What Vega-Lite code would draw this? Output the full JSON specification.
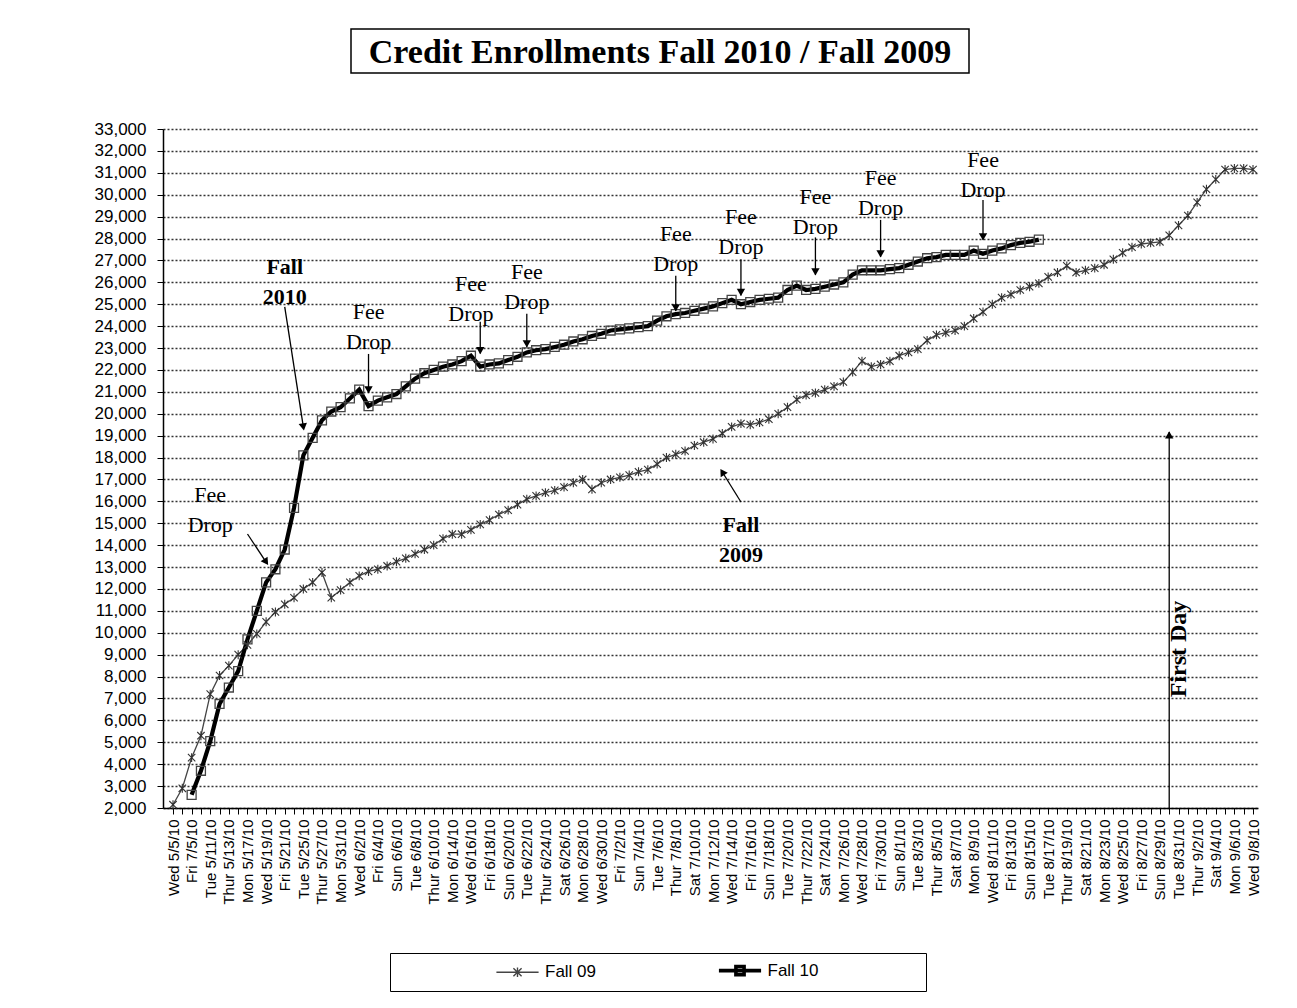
{
"$schema": "https://vega.github.io/schema/vega-lite/v6.json",
"padding": {"left": 94, "top": 28, "right": 0, "bottom": 0},
"background": "white",
"datasets": {
"enroll": [
{"day":"Wed 5/5/10","series":"Fall 09","value":2150},
{"day":"Thur 5/6/10","series":"Fall 09","value":2900},
{"day":"Fri 7/5/10","series":"Fall 09","value":4300},
{"day":"Mon 5/10/10","series":"Fall 09","value":5300},
{"day":"Tue 5/11/10","series":"Fall 09","value":7200},
{"day":"Wed 5/12/10","series":"Fall 09","value":8050},
{"day":"Thur 5/13/10","series":"Fall 09","value":8500},
{"day":"Fri 5/14/10","series":"Fall 09","value":9000},
{"day":"Mon 5/17/10","series":"Fall 09","value":9450},
{"day":"Tue 5/18/10","series":"Fall 09","value":9950},
{"day":"Wed 5/19/10","series":"Fall 09","value":10500},
{"day":"Thur 5/20/10","series":"Fall 09","value":10950},
{"day":"Fri 5/21/10","series":"Fall 09","value":11300},
{"day":"Mon 5/24/10","series":"Fall 09","value":11600},
{"day":"Tue 5/25/10","series":"Fall 09","value":12000},
{"day":"Wed 5/26/10","series":"Fall 09","value":12300},
{"day":"Thur 5/27/10","series":"Fall 09","value":12750},
{"day":"Fri 5/28/10","series":"Fall 09","value":11600},
{"day":"Mon 5/31/10","series":"Fall 09","value":11950},
{"day":"Tue 6/1/10","series":"Fall 09","value":12300},
{"day":"Wed 6/2/10","series":"Fall 09","value":12600},
{"day":"Thur 6/3/10","series":"Fall 09","value":12800},
{"day":"Fri 6/4/10","series":"Fall 09","value":12900},
{"day":"Sat 6/5/10","series":"Fall 09","value":13050},
{"day":"Sun 6/6/10","series":"Fall 09","value":13250},
{"day":"Mon 6/7/10","series":"Fall 09","value":13400},
{"day":"Tue 6/8/10","series":"Fall 09","value":13600},
{"day":"Wed 6/9/10","series":"Fall 09","value":13800},
{"day":"Thur 6/10/10","series":"Fall 09","value":14000},
{"day":"Fri 6/11/10","series":"Fall 09","value":14300},
{"day":"Mon 6/14/10","series":"Fall 09","value":14500},
{"day":"Tue 6/15/10","series":"Fall 09","value":14500},
{"day":"Wed 6/16/10","series":"Fall 09","value":14700},
{"day":"Thur 6/17/10","series":"Fall 09","value":14950},
{"day":"Fri 6/18/10","series":"Fall 09","value":15150},
{"day":"Sat 6/19/10","series":"Fall 09","value":15400},
{"day":"Sun 6/20/10","series":"Fall 09","value":15600},
{"day":"Mon 6/21/10","series":"Fall 09","value":15850},
{"day":"Tue 6/22/10","series":"Fall 09","value":16100},
{"day":"Wed 6/23/10","series":"Fall 09","value":16250},
{"day":"Thur 6/24/10","series":"Fall 09","value":16400},
{"day":"Fri 6/25/10","series":"Fall 09","value":16500},
{"day":"Sat 6/26/10","series":"Fall 09","value":16650},
{"day":"Sun 6/27/10","series":"Fall 09","value":16850},
{"day":"Mon 6/28/10","series":"Fall 09","value":17000},
{"day":"Tue 6/29/10","series":"Fall 09","value":16550},
{"day":"Wed 6/30/10","series":"Fall 09","value":16850},
{"day":"Thur 7/1/10","series":"Fall 09","value":17000},
{"day":"Fri 7/2/10","series":"Fall 09","value":17100},
{"day":"Sat 7/3/10","series":"Fall 09","value":17200},
{"day":"Sun 7/4/10","series":"Fall 09","value":17350},
{"day":"Mon 7/5/10","series":"Fall 09","value":17450},
{"day":"Tue 7/6/10","series":"Fall 09","value":17700},
{"day":"Wed 7/7/10","series":"Fall 09","value":18000},
{"day":"Thur 7/8/10","series":"Fall 09","value":18150},
{"day":"Fri 7/9/10","series":"Fall 09","value":18300},
{"day":"Sat 7/10/10","series":"Fall 09","value":18550},
{"day":"Sun 7/11/10","series":"Fall 09","value":18700},
{"day":"Mon 7/12/10","series":"Fall 09","value":18850},
{"day":"Tue 7/13/10","series":"Fall 09","value":19100},
{"day":"Wed 7/14/10","series":"Fall 09","value":19400},
{"day":"Thur 7/15/10","series":"Fall 09","value":19550},
{"day":"Fri 7/16/10","series":"Fall 09","value":19500},
{"day":"Sat 7/17/10","series":"Fall 09","value":19600},
{"day":"Sun 7/18/10","series":"Fall 09","value":19750},
{"day":"Mon 7/19/10","series":"Fall 09","value":20000},
{"day":"Tue 7/20/10","series":"Fall 09","value":20300},
{"day":"Wed 7/21/10","series":"Fall 09","value":20650},
{"day":"Thur 7/22/10","series":"Fall 09","value":20850},
{"day":"Fri 7/23/10","series":"Fall 09","value":20950},
{"day":"Sat 7/24/10","series":"Fall 09","value":21100},
{"day":"Sun 7/25/10","series":"Fall 09","value":21250},
{"day":"Mon 7/26/10","series":"Fall 09","value":21450},
{"day":"Tue 7/27/10","series":"Fall 09","value":21900},
{"day":"Wed 7/28/10","series":"Fall 09","value":22400},
{"day":"Thur 7/29/10","series":"Fall 09","value":22150},
{"day":"Fri 7/30/10","series":"Fall 09","value":22250},
{"day":"Sat 7/31/10","series":"Fall 09","value":22400},
{"day":"Sun 8/1/10","series":"Fall 09","value":22650},
{"day":"Mon 8/2/10","series":"Fall 09","value":22800},
{"day":"Tue 8/3/10","series":"Fall 09","value":22950},
{"day":"Wed 8/4/10","series":"Fall 09","value":23350},
{"day":"Thur 8/5/10","series":"Fall 09","value":23600},
{"day":"Fri 8/6/10","series":"Fall 09","value":23700},
{"day":"Sat 8/7/10","series":"Fall 09","value":23800},
{"day":"Sun 8/8/10","series":"Fall 09","value":24000},
{"day":"Mon 8/9/10","series":"Fall 09","value":24350},
{"day":"Tue 8/10/10","series":"Fall 09","value":24650},
{"day":"Wed 8/11/10","series":"Fall 09","value":25000},
{"day":"Thur 8/12/10","series":"Fall 09","value":25300},
{"day":"Fri 8/13/10","series":"Fall 09","value":25450},
{"day":"Sat 8/14/10","series":"Fall 09","value":25650},
{"day":"Sun 8/15/10","series":"Fall 09","value":25800},
{"day":"Mon 8/16/10","series":"Fall 09","value":25950},
{"day":"Tue 8/17/10","series":"Fall 09","value":26250},
{"day":"Wed 8/18/10","series":"Fall 09","value":26450},
{"day":"Thur 8/19/10","series":"Fall 09","value":26750},
{"day":"Fri 8/20/10","series":"Fall 09","value":26450},
{"day":"Sat 8/21/10","series":"Fall 09","value":26550},
{"day":"Sun 8/22/10","series":"Fall 09","value":26650},
{"day":"Mon 8/23/10","series":"Fall 09","value":26800},
{"day":"Tue 8/24/10","series":"Fall 09","value":27050},
{"day":"Wed 8/25/10","series":"Fall 09","value":27350},
{"day":"Thur 8/26/10","series":"Fall 09","value":27600},
{"day":"Fri 8/27/10","series":"Fall 09","value":27750},
{"day":"Sat 8/28/10","series":"Fall 09","value":27800},
{"day":"Sun 8/29/10","series":"Fall 09","value":27850},
{"day":"Mon 8/30/10","series":"Fall 09","value":28150},
{"day":"Tue 8/31/10","series":"Fall 09","value":28600},
{"day":"Wed 9/1/10","series":"Fall 09","value":29050},
{"day":"Thur 9/2/10","series":"Fall 09","value":29650},
{"day":"Fri 9/3/10","series":"Fall 09","value":30250},
{"day":"Sat 9/4/10","series":"Fall 09","value":30700},
{"day":"Sun 9/5/10","series":"Fall 09","value":31150},
{"day":"Mon 9/6/10","series":"Fall 09","value":31200},
{"day":"Tue 9/7/10","series":"Fall 09","value":31200},
{"day":"Wed 9/8/10","series":"Fall 09","value":31150},
{"day":"Fri 7/5/10","series":"Fall 10","value":2600},
{"day":"Mon 5/10/10","series":"Fall 10","value":3700},
{"day":"Tue 5/11/10","series":"Fall 10","value":5050},
{"day":"Wed 5/12/10","series":"Fall 10","value":6750},
{"day":"Thur 5/13/10","series":"Fall 10","value":7500},
{"day":"Fri 5/14/10","series":"Fall 10","value":8250},
{"day":"Mon 5/17/10","series":"Fall 10","value":9700},
{"day":"Tue 5/18/10","series":"Fall 10","value":11000},
{"day":"Wed 5/19/10","series":"Fall 10","value":12300},
{"day":"Thur 5/20/10","series":"Fall 10","value":12900},
{"day":"Fri 5/21/10","series":"Fall 10","value":13800},
{"day":"Mon 5/24/10","series":"Fall 10","value":15700},
{"day":"Tue 5/25/10","series":"Fall 10","value":18100},
{"day":"Wed 5/26/10","series":"Fall 10","value":18900},
{"day":"Thur 5/27/10","series":"Fall 10","value":19700},
{"day":"Fri 5/28/10","series":"Fall 10","value":20100},
{"day":"Mon 5/31/10","series":"Fall 10","value":20300},
{"day":"Tue 6/1/10","series":"Fall 10","value":20700},
{"day":"Wed 6/2/10","series":"Fall 10","value":21100},
{"day":"Thur 6/3/10","series":"Fall 10","value":20350},
{"day":"Fri 6/4/10","series":"Fall 10","value":20600},
{"day":"Sat 6/5/10","series":"Fall 10","value":20750},
{"day":"Sun 6/6/10","series":"Fall 10","value":20900},
{"day":"Mon 6/7/10","series":"Fall 10","value":21250},
{"day":"Tue 6/8/10","series":"Fall 10","value":21600},
{"day":"Wed 6/9/10","series":"Fall 10","value":21850},
{"day":"Thur 6/10/10","series":"Fall 10","value":22000},
{"day":"Fri 6/11/10","series":"Fall 10","value":22150},
{"day":"Mon 6/14/10","series":"Fall 10","value":22250},
{"day":"Tue 6/15/10","series":"Fall 10","value":22400},
{"day":"Wed 6/16/10","series":"Fall 10","value":22650},
{"day":"Thur 6/17/10","series":"Fall 10","value":22150},
{"day":"Fri 6/18/10","series":"Fall 10","value":22250},
{"day":"Sat 6/19/10","series":"Fall 10","value":22300},
{"day":"Sun 6/20/10","series":"Fall 10","value":22450},
{"day":"Mon 6/21/10","series":"Fall 10","value":22600},
{"day":"Tue 6/22/10","series":"Fall 10","value":22800},
{"day":"Wed 6/23/10","series":"Fall 10","value":22900},
{"day":"Thur 6/24/10","series":"Fall 10","value":22950},
{"day":"Fri 6/25/10","series":"Fall 10","value":23050},
{"day":"Sat 6/26/10","series":"Fall 10","value":23150},
{"day":"Sun 6/27/10","series":"Fall 10","value":23300},
{"day":"Mon 6/28/10","series":"Fall 10","value":23400},
{"day":"Tue 6/29/10","series":"Fall 10","value":23550},
{"day":"Wed 6/30/10","series":"Fall 10","value":23650},
{"day":"Thur 7/1/10","series":"Fall 10","value":23800},
{"day":"Fri 7/2/10","series":"Fall 10","value":23850},
{"day":"Sat 7/3/10","series":"Fall 10","value":23900},
{"day":"Sun 7/4/10","series":"Fall 10","value":23950},
{"day":"Mon 7/5/10","series":"Fall 10","value":24000},
{"day":"Tue 7/6/10","series":"Fall 10","value":24250},
{"day":"Wed 7/7/10","series":"Fall 10","value":24450},
{"day":"Thur 7/8/10","series":"Fall 10","value":24550},
{"day":"Fri 7/9/10","series":"Fall 10","value":24600},
{"day":"Sat 7/10/10","series":"Fall 10","value":24700},
{"day":"Sun 7/11/10","series":"Fall 10","value":24800},
{"day":"Mon 7/12/10","series":"Fall 10","value":24900},
{"day":"Tue 7/13/10","series":"Fall 10","value":25050},
{"day":"Wed 7/14/10","series":"Fall 10","value":25200},
{"day":"Thur 7/15/10","series":"Fall 10","value":25000},
{"day":"Fri 7/16/10","series":"Fall 10","value":25100},
{"day":"Sat 7/17/10","series":"Fall 10","value":25200},
{"day":"Sun 7/18/10","series":"Fall 10","value":25250},
{"day":"Mon 7/19/10","series":"Fall 10","value":25300},
{"day":"Tue 7/20/10","series":"Fall 10","value":25650},
{"day":"Wed 7/21/10","series":"Fall 10","value":25850},
{"day":"Thur 7/22/10","series":"Fall 10","value":25650},
{"day":"Fri 7/23/10","series":"Fall 10","value":25700},
{"day":"Sat 7/24/10","series":"Fall 10","value":25800},
{"day":"Sun 7/25/10","series":"Fall 10","value":25900},
{"day":"Mon 7/26/10","series":"Fall 10","value":26000},
{"day":"Tue 7/27/10","series":"Fall 10","value":26350},
{"day":"Wed 7/28/10","series":"Fall 10","value":26550},
{"day":"Thur 7/29/10","series":"Fall 10","value":26550},
{"day":"Fri 7/30/10","series":"Fall 10","value":26550},
{"day":"Sat 7/31/10","series":"Fall 10","value":26600},
{"day":"Sun 8/1/10","series":"Fall 10","value":26650},
{"day":"Mon 8/2/10","series":"Fall 10","value":26800},
{"day":"Tue 8/3/10","series":"Fall 10","value":26950},
{"day":"Wed 8/4/10","series":"Fall 10","value":27100},
{"day":"Thur 8/5/10","series":"Fall 10","value":27150},
{"day":"Fri 8/6/10","series":"Fall 10","value":27250},
{"day":"Sat 8/7/10","series":"Fall 10","value":27250},
{"day":"Sun 8/8/10","series":"Fall 10","value":27250},
{"day":"Mon 8/9/10","series":"Fall 10","value":27450},
{"day":"Tue 8/10/10","series":"Fall 10","value":27300},
{"day":"Wed 8/11/10","series":"Fall 10","value":27450},
{"day":"Thur 8/12/10","series":"Fall 10","value":27550},
{"day":"Fri 8/13/10","series":"Fall 10","value":27700},
{"day":"Sat 8/14/10","series":"Fall 10","value":27800},
{"day":"Sun 8/15/10","series":"Fall 10","value":27850},
{"day":"Mon 8/16/10","series":"Fall 10","value":27950}
],
"notes": [
{"day":"Tue 5/11/10","value":16290,"text":"Fee\nDrop","kind":"fee"},
{"day":"Thur 6/3/10","value":24640,"text":"Fee\nDrop","kind":"fee"},
{"day":"Wed 6/16/10","value":25920,"text":"Fee\nDrop","kind":"fee"},
{"day":"Tue 6/22/10","value":26470,"text":"Fee\nDrop","kind":"fee"},
{"day":"Thur 7/8/10","value":28200,"text":"Fee\nDrop","kind":"fee"},
{"day":"Thur 7/15/10","value":28980,"text":"Fee\nDrop","kind":"fee"},
{"day":"Fri 7/23/10","value":29900,"text":"Fee\nDrop","kind":"fee"},
{"day":"Fri 7/30/10","value":30760,"text":"Fee\nDrop","kind":"fee"},
{"day":"Tue 8/10/10","value":31580,"text":"Fee\nDrop","kind":"fee"},
{"day":"Fri 5/21/10","value":26700,"text":"Fall\n2010","kind":"series"},
{"day":"Thur 7/15/10","value":14920,"text":"Fall\n2009","kind":"series"},
{"day":"Tue 8/31/10","value":9260,"text":"First Day","kind":"firstday"}
],
"arrows": [
{"day":"Wed 5/19/10","value":13230,"day0":"Mon 5/17/10","value0":14510,"kind":"fee1"},
{"day":"Thur 6/3/10","value":20950,"day0":"Thur 6/3/10","value0":22730,"kind":"down"},
{"day":"Thur 6/17/10","value":22750,"day0":"Thur 6/17/10","value0":24200,"kind":"down"},
{"day":"Tue 6/22/10","value":23050,"day0":"Tue 6/22/10","value0":24560,"kind":"down"},
{"day":"Thur 7/8/10","value":24700,"day0":"Thur 7/8/10","value0":26300,"kind":"down"},
{"day":"Thur 7/15/10","value":25400,"day0":"Thur 7/15/10","value0":27050,"kind":"down"},
{"day":"Fri 7/23/10","value":26340,"day0":"Fri 7/23/10","value0":28050,"kind":"down"},
{"day":"Fri 7/30/10","value":27160,"day0":"Fri 7/30/10","value0":28850,"kind":"down"},
{"day":"Tue 8/10/10","value":27940,"day0":"Tue 8/10/10","value0":29760,"kind":"down"},
{"day":"Tue 5/25/10","value":19400,"day0":"Fri 5/21/10","value0":24880,"kind":"fall2010"},
{"day":"Tue 7/13/10","value":17340,"day0":"Thur 7/15/10","value0":15970,"kind":"fall2009"},
{"day":"Mon 8/30/10","value":19170,"day0":"Mon 8/30/10","value0":2000,"kind":"firstday"}
]
},
"vconcat": [
{
"hconcat": [
{"width": 187, "height": 44, "data": {"values": [{}]}, "mark": {"type": "point", "opacity": 0}, "encoding": {}},
{"width": 618, "height": 44, "data": {"values": [{}]}, "mark": {"type": "point", "opacity": 0}, "encoding": {},
 "view": {"stroke": "#000", "strokeWidth": 1.5},
 "title": {"text": "Credit Enrollments Fall 2010 / Fall 2009", "orient": "bottom", "anchor": "middle", "offset": -10, "baseline": "alphabetic", "font": "Liberation Serif", "fontSize": 34, "fontWeight": "bold", "color": "#000"}}
],
"spacing": 0
},
{
"width": 1095,
"height": 679,
"data": {"name": "enroll"},
"encoding": {
"x": {"field": "day", "type": "ordinal",
 "scale": {"type": "point", "padding": 0.8056, "align": 0.667, "domain": ["Wed 5/5/10","Thur 5/6/10","Fri 7/5/10","Mon 5/10/10","Tue 5/11/10","Wed 5/12/10","Thur 5/13/10","Fri 5/14/10","Mon 5/17/10","Tue 5/18/10","Wed 5/19/10","Thur 5/20/10","Fri 5/21/10","Mon 5/24/10","Tue 5/25/10","Wed 5/26/10","Thur 5/27/10","Fri 5/28/10","Mon 5/31/10","Tue 6/1/10","Wed 6/2/10","Thur 6/3/10","Fri 6/4/10","Sat 6/5/10","Sun 6/6/10","Mon 6/7/10","Tue 6/8/10","Wed 6/9/10","Thur 6/10/10","Fri 6/11/10","Mon 6/14/10","Tue 6/15/10","Wed 6/16/10","Thur 6/17/10","Fri 6/18/10","Sat 6/19/10","Sun 6/20/10","Mon 6/21/10","Tue 6/22/10","Wed 6/23/10","Thur 6/24/10","Fri 6/25/10","Sat 6/26/10","Sun 6/27/10","Mon 6/28/10","Tue 6/29/10","Wed 6/30/10","Thur 7/1/10","Fri 7/2/10","Sat 7/3/10","Sun 7/4/10","Mon 7/5/10","Tue 7/6/10","Wed 7/7/10","Thur 7/8/10","Fri 7/9/10","Sat 7/10/10","Sun 7/11/10","Mon 7/12/10","Tue 7/13/10","Wed 7/14/10","Thur 7/15/10","Fri 7/16/10","Sat 7/17/10","Sun 7/18/10","Mon 7/19/10","Tue 7/20/10","Wed 7/21/10","Thur 7/22/10","Fri 7/23/10","Sat 7/24/10","Sun 7/25/10","Mon 7/26/10","Tue 7/27/10","Wed 7/28/10","Thur 7/29/10","Fri 7/30/10","Sat 7/31/10","Sun 8/1/10","Mon 8/2/10","Tue 8/3/10","Wed 8/4/10","Thur 8/5/10","Fri 8/6/10","Sat 8/7/10","Sun 8/8/10","Mon 8/9/10","Tue 8/10/10","Wed 8/11/10","Thur 8/12/10","Fri 8/13/10","Sat 8/14/10","Sun 8/15/10","Mon 8/16/10","Tue 8/17/10","Wed 8/18/10","Thur 8/19/10","Fri 8/20/10","Sat 8/21/10","Sun 8/22/10","Mon 8/23/10","Tue 8/24/10","Wed 8/25/10","Thur 8/26/10","Fri 8/27/10","Sat 8/28/10","Sun 8/29/10","Mon 8/30/10","Tue 8/31/10","Wed 9/1/10","Thur 9/2/10","Fri 9/3/10","Sat 9/4/10","Sun 9/5/10","Mon 9/6/10","Tue 9/7/10","Wed 9/8/10"]},
 "axis": {"title": null, "labelAngle": -90, "labelFont": "Liberation Sans", "labelFontSize": 15, "labelColor": "#000", "labelOverlap": false, "labelBound": false, "labelPadding": 5, "tickSize": 6, "tickColor": "#000", "domainColor": "#000", "domainWidth": 1.5, "grid": false,
  "labelExpr": "indexof(['Wed 5/5/10','Fri 7/5/10','Tue 5/11/10','Thur 5/13/10','Mon 5/17/10','Wed 5/19/10','Fri 5/21/10','Tue 5/25/10','Thur 5/27/10','Mon 5/31/10','Wed 6/2/10','Fri 6/4/10','Sun 6/6/10','Tue 6/8/10','Thur 6/10/10','Mon 6/14/10','Wed 6/16/10','Fri 6/18/10','Sun 6/20/10','Tue 6/22/10','Thur 6/24/10','Sat 6/26/10','Mon 6/28/10','Wed 6/30/10','Fri 7/2/10','Sun 7/4/10','Tue 7/6/10','Thur 7/8/10','Sat 7/10/10','Mon 7/12/10','Wed 7/14/10','Fri 7/16/10','Sun 7/18/10','Tue 7/20/10','Thur 7/22/10','Sat 7/24/10','Mon 7/26/10','Wed 7/28/10','Fri 7/30/10','Sun 8/1/10','Tue 8/3/10','Thur 8/5/10','Sat 8/7/10','Mon 8/9/10','Wed 8/11/10','Fri 8/13/10','Sun 8/15/10','Tue 8/17/10','Thur 8/19/10','Sat 8/21/10','Mon 8/23/10','Wed 8/25/10','Fri 8/27/10','Sun 8/29/10','Tue 8/31/10','Thur 9/2/10','Sat 9/4/10','Mon 9/6/10','Wed 9/8/10'], datum.value) >= 0 ? datum.value : ''"}},
"y": {"field": "value", "type": "quantitative",
 "scale": {"domain": [2000, 33000], "nice": false, "zero": false},
 "axis": {"title": null, "values": [2000,3000,4000,5000,6000,7000,8000,9000,10000,11000,12000,13000,14000,15000,16000,17000,18000,19000,20000,21000,22000,23000,24000,25000,26000,27000,28000,29000,30000,31000,32000,33000], "format": ",d", "labelFont": "Liberation Sans", "labelFontSize": 17, "labelColor": "#000", "labelPadding": 11, "tickSize": 6, "tickColor": "#000", "domainColor": "#000", "domainWidth": 1.5, "grid": true, "gridColor": "#333", "gridDash": [2, 2], "gridWidth": 1.3}}
},
"layer": [
{"mark": {"type": "line"},
 "encoding": {
  "color": {"field": "series", "type": "nominal", "scale": {"domain": ["Fall 09", "Fall 10"], "range": ["#444444", "#000000"]},
   "legend": {"orient": "none", "legendX": 227, "legendY": 924, "direction": "horizontal", "columns": 2, "title": null, "padding": 9, "strokeColor": "#000", "fillColor": "#fff", "symbolSize": 1156, "symbolOffset": 110, "labelOffset": 19, "columnPadding": 24.5, "labelFont": "Liberation Sans", "labelFontSize": 17, "labelColor": "#000", "labelLimit": 400,
    "encode": {"symbols": {"update": {
      "shape": {"signal": "datum.value === 'Fall 09' ? 'M-1.24,0L1.24,0M-0.24,-0.24L0.24,0.24M-0.24,0.24L0.24,-0.24M0,-0.28L0,0.28' : 'M-1.24,0L1.24,0M-0.24,-0.24L0.24,-0.24L0.24,0.24L-0.24,0.24ZM9.95,0L9.95,0'"},
      "strokeWidth": {"signal": "datum.value === 'Fall 09' ? 1.4 : 3.6"},
      "stroke": {"signal": "datum.value === 'Fall 09' ? '#444444' : '#000000'"},
      "fill": {"value": "transparent"},
      "opacity": {"value": 1}}}}}},
  "strokeWidth": {"condition": {"test": "datum.series === 'Fall 10'", "value": 4.2}, "value": 1.3}
 }},
{"transform": [{"filter": "datum.series === 'Fall 09'"}],
 "mark": {"type": "point", "shape": "M-1,-1L1,1M-1,1L1,-1M0,-1.2L0,1.2", "filled": false, "opacity": 1, "strokeWidth": 1.1, "size": 55, "color": "#333333"},
 "encoding": {}},
{"transform": [{"filter": "datum.series === 'Fall 10'"}],
 "mark": {"type": "point", "shape": "square", "filled": false, "opacity": 1, "strokeWidth": 1.3, "size": 80, "color": "#444444"},
 "encoding": {}},
{"data": {"name": "arrows"},
 "mark": {"type": "rule", "color": "#000", "strokeWidth": 1.3},
 "encoding": {"x2": {"field": "day0"}, "y2": {"field": "value0"}}},
{"data": {"name": "arrows"},
 "transform": [{"filter": "datum.kind === 'down'"}],
 "mark": {"type": "point", "shape": "triangle-down", "filled": true, "color": "#000", "opacity": 1, "size": 70, "yOffset": -3},
 "encoding": {}},
{"data": {"name": "arrows"},
 "transform": [{"filter": "datum.kind === 'fee1'"}],
 "mark": {"type": "point", "shape": "triangle-up", "angle": 146, "filled": true, "color": "#000", "opacity": 1, "size": 70},
 "encoding": {}},
{"data": {"name": "arrows"},
 "transform": [{"filter": "datum.kind === 'fall2010'"}],
 "mark": {"type": "point", "shape": "triangle-up", "angle": 171, "filled": true, "color": "#000", "opacity": 1, "size": 70},
 "encoding": {}},
{"data": {"name": "arrows"},
 "transform": [{"filter": "datum.kind === 'fall2009'"}],
 "mark": {"type": "point", "shape": "triangle-up", "angle": -32, "filled": true, "color": "#000", "opacity": 1, "size": 70},
 "encoding": {}},
{"data": {"name": "arrows"},
 "transform": [{"filter": "datum.kind === 'firstday'"}],
 "mark": {"type": "point", "shape": "triangle-up", "filled": true, "color": "#000", "opacity": 1, "size": 70, "yOffset": 3},
 "encoding": {}},
{"data": {"name": "notes"},
 "transform": [{"filter": "datum.kind === 'fee'"}],
 "mark": {"type": "text", "font": "Liberation Serif", "fontSize": 22, "lineBreak": "\n", "lineHeight": 30, "baseline": "middle", "align": "center", "color": "#000"},
 "encoding": {"text": {"field": "text"}}},
{"data": {"name": "notes"},
 "transform": [{"filter": "datum.kind === 'series'"}],
 "mark": {"type": "text", "font": "Liberation Serif", "fontSize": 22, "fontWeight": "bold", "lineBreak": "\n", "lineHeight": 30, "baseline": "middle", "align": "center", "color": "#000"},
 "encoding": {"text": {"field": "text"}}},
{"data": {"name": "notes"},
 "transform": [{"filter": "datum.kind === 'firstday'"}],
 "mark": {"type": "text", "font": "Liberation Serif", "fontSize": 24, "fontWeight": "bold", "angle": 270, "baseline": "middle", "align": "center", "color": "#000"},
 "encoding": {"text": {"field": "text"}}}
]
}
],
"spacing": 46,
"config": {"view": {"stroke": null}}
}
